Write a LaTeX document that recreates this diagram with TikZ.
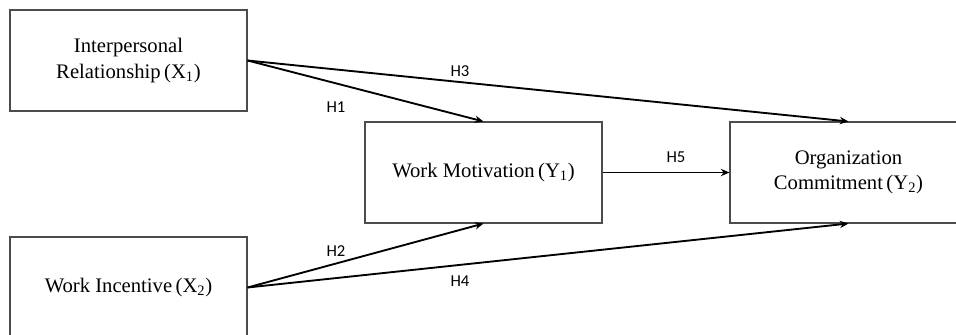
\documentclass[tikz,border=0pt]{standalone}
\usepackage{fontspec}
\setmainfont{Liberation Serif}
\newfontfamily\labelfont{Carlito}
\usepackage{tikz}
\usetikzlibrary{arrows.meta}

\begin{document}
\begin{tikzpicture}[x=0.75pt, y=-0.75pt,
	box/.style = {draw = black!70, line width = 0.8pt, minimum width = 177.75pt, minimum height = 75.75pt, align = center, font = \fontsize{15.5}{19}\selectfont, inner sep = 0pt},
	path/.style = {line width = 1.4pt, -{Stealth[length = 6.5pt, width = 5.5pt]}},
	hyp/.style = {font = \labelfont\fontsize{12.5}{14}\selectfont}]

\clip (0,0) rectangle (956,335);

\node[box] (x1) at (128.5,60.5) {Interpersonal\\Relationship\,(X\textsubscript{1})};
\node[box] (x2) at (128.5,287.5) {Work Incentive\,(X\textsubscript{2})};
\node[box] (y1) at (483.5,172.5) {Work Motivation\,(Y\textsubscript{1})};
\node[box] (y2) at (848.5,172.5) {Organization\\Commitment\,(Y\textsubscript{2})};

\draw[path] (x1.east) -- (y1.north);
\draw[path] (x1.east) -- (y2.north);
\draw[path] (x2.east) -- (y1.south);
\draw[path] (x2.east) -- (y2.south);
\draw[path] (y1.east) -- (y2.west);

\node[hyp] (h1) at (336,107) {H1};
\node[hyp] (h2) at (336,251) {H2};
\node[hyp] (h3) at (460,71) {H3};
\node[hyp] (h4) at (460,281) {H4};
\node[hyp] (h5) at (676,157) {H5};
\end{tikzpicture}
\end{document}
